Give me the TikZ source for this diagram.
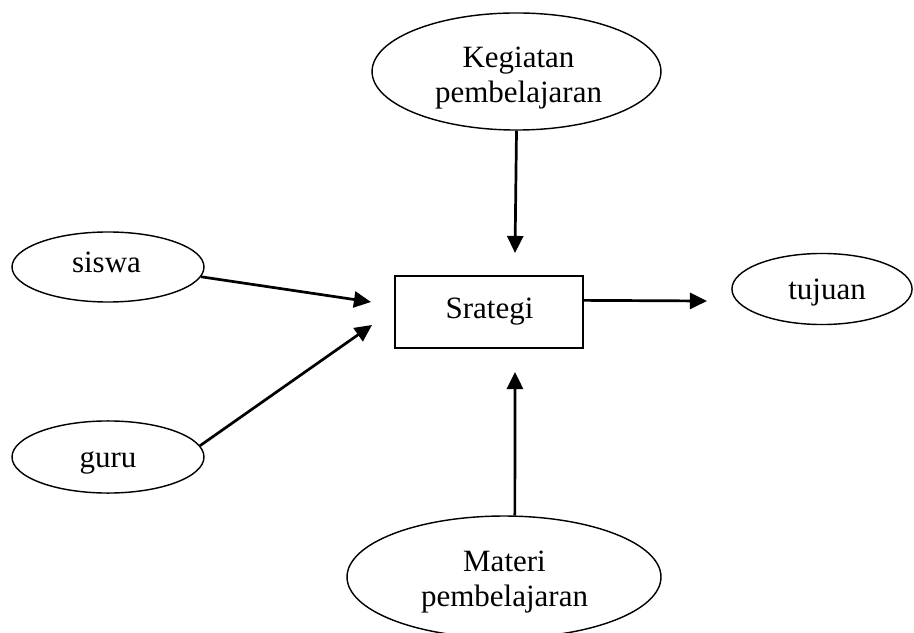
\documentclass[tikz,border=0pt]{standalone}
\usepackage{fontspec}
\setmainfont{Liberation Serif}
\usepackage{tikz}
\usetikzlibrary{shapes.geometric}
\usetikzlibrary{arrows.meta}
\newcommand{\ovalnode}[4]{\node[shape=ellipse, draw, line width=0.55pt, inner sep=0pt, minimum width=#3, minimum height=#4] (#1) at #2 {};}
\newcommand{\lbl}[3]{\node[txt, anchor=center] (#1) at #2 {#3};}
\newcommand{\lblbase}[3]{\node[txt, anchor=base] (#1) at #2 {#3};}

\begin{document}
\begin{tikzpicture}[x=0.387pt, y=-0.387pt,
    txt/.style={draw=none, fill=none, inner sep=0pt, align=center, font=\fontsize{12}{13.9}\selectfont},
    flow/.style={line width=1.05pt, -{Triangle[length=6.6pt, width=6.2pt]}}]

        \useasboundingbox (0,0) rectangle (914,633);

        % ellipses
        \ovalnode{kegiatan}{(516.5,71.5)}{111.8pt}{45.3pt}
        \ovalnode{siswa}{(108,267)}{74.3pt}{27.1pt}
        \ovalnode{guru}{(108,457)}{74.3pt}{27.9pt}
        \ovalnode{tujuan}{(822,289)}{69.7pt}{27.5pt}
        \ovalnode{materi}{(504,577)}{121.5pt}{47.2pt}

        % box
        \node[draw, line width=0.6pt, inner sep=0pt, minimum width=72.8pt, minimum height=27.9pt] (strategi) at (489,312) {};

        % texts
        \lbl{kegiatantxt}{(518.5,78)}{Kegiatan\\pembelajaran}
        \lbl{materitxt}{(504.5,582)}{Materi\\pembelajaran}
        \lblbase{siswatxt}{(106.5,273)}{siswa}
        \lblbase{gurutxt}{(108,467)}{guru}
        \lblbase{tujuantxt}{(827,300)}{tujuan}
        \lblbase{strategitxt}{(489.5,318)}{Srategi}

        % arrow ends
        \coordinate (topin) at (515,253);
        \coordinate (siswain) at (371,302);
        \coordinate (guruin) at (372,325);
        \coordinate (materiin) at (515,372);
        \coordinate (tujuanin) at (707,301);

        % arrows
        \draw[flow] (kegiatan.south) -- (topin);
        \draw[flow] (siswa.-6) -- (siswain);
        \draw[flow] (guru.7) -- (guruin);
        \draw[flow] (materi.80) -- (materiin);
        \draw[flow] (strategi.7) -- (tujuanin);

\end{tikzpicture}
\end{document}
